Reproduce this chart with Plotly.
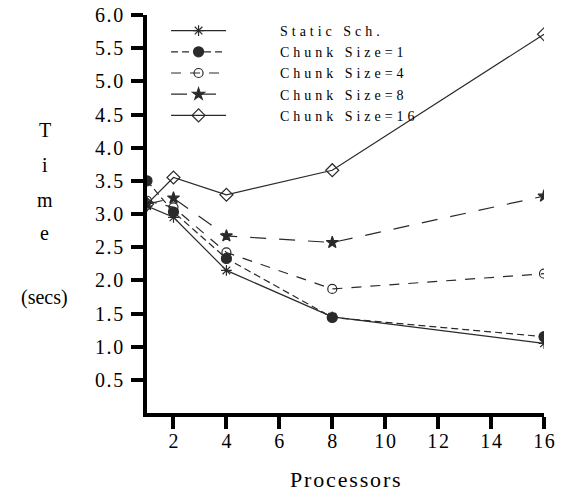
import plotly.graph_objects as go

processors = [1, 2, 4, 8, 16]
static_sch = [3.12, 2.95, 2.15, 1.45, 1.05]
chunk1 = [3.50, 3.03, 2.33, 1.44, 1.15]
chunk4 = [3.20, 3.10, 2.42, 1.87, 2.10]
chunk8 = [3.15, 3.24, 2.67, 2.57, 3.27]
chunk16 = [3.15, 3.55, 3.29, 3.66, 5.71]

x_ticks = [2, 4, 6, 8, 10, 12, 14, 16]
y_ticks = [0.5, 1.0, 1.5, 2.0, 2.5, 3.0, 3.5, 4.0, 4.5, 5.0, 5.5, 6.0]

SERIF = "Liberation Serif"
INK = "#2a2a2a"
HS = "\u200a"
TS = "\u2009"

series = [
    ("Static Sch.", static_sch, "solid", "asterisk-open", 9),
    ("Chunk Size=1", chunk1, "7px,4px", "circle", 10),
    ("Chunk Size=4", chunk4, "10px,9px", "circle-open", 9),
    ("Chunk Size=8", chunk8, "16px,13px", "star", 9),
    ("Chunk Size=16", chunk16, "solid", "diamond-open", 10),
]

fig = go.Figure()
pad = "\u00a0" * 14
for name, vals, dash, sym, size in series:
    fig.add_trace(go.Scatter(
        x=processors, y=vals, mode="lines+markers",
        name=pad + (TS + HS).join(name),
        line=dict(color=INK, width=1.2, dash=dash),
        marker=dict(symbol=sym, size=size, color=INK,
                    line=dict(color=INK, width=1.2)),
    ))

fig.update_layout(
    width=563, height=501,
    margin=dict(l=147, r=19, t=15, b=88, autoexpand=False),
    paper_bgcolor="white", plot_bgcolor="white",
    font=dict(family=SERIF, color="black", size=20),
    showlegend=True,
    legend=dict(
        x=0.048, y=1.0, xanchor="left", yanchor="top",
        bgcolor="rgba(0,0,0,0)", borderwidth=0,
        font=dict(family=SERIF, size=14, color="black"),
        itemwidth=55, tracegroupgap=0,
    ),
    xaxis=dict(
        range=[1, 16], tickvals=x_ticks,
        ticktext=[HS.join(str(v)) for v in x_ticks],
        showline=True, linewidth=3.5, linecolor="black", mirror=False,
        ticks="outside", ticklen=12, tickwidth=3.5, tickcolor="black",
        showgrid=False, zeroline=False, ticklabelstandoff=-5,
        tickfont=dict(family=SERIF, size=20), automargin=False,
    ),
    yaxis=dict(
        range=[0, 6], tickvals=y_ticks,
        ticktext=[HS.join(f"{v:.1f}") for v in y_ticks],
        showline=True, linewidth=3.5, linecolor="black", mirror=False,
        ticks="outside", ticklen=12, tickwidth=3.5, tickcolor="black",
        showgrid=False, zeroline=False, ticklabelstandoff=4,
        tickfont=dict(family=SERIF, size=20), automargin=False,
    ),
)

fig.add_annotation(text=HS.join("Processors"), xref="paper", yref="paper",
                   x=0.5, y=-0.168, xanchor="center", yanchor="middle",
                   showarrow=False, font=dict(family=SERIF, size=22))
for txt, yy in [("T", 0.711), ("i", 0.623), ("m", 0.535), ("e", 0.452), ("(secs)", 0.291)]:
    fig.add_annotation(text=txt, xref="paper", yref="paper", x=-0.257, y=yy,
                       xanchor="center", yanchor="middle",
                       showarrow=False, font=dict(family=SERIF, size=20))

fig.write_html("out.html")
